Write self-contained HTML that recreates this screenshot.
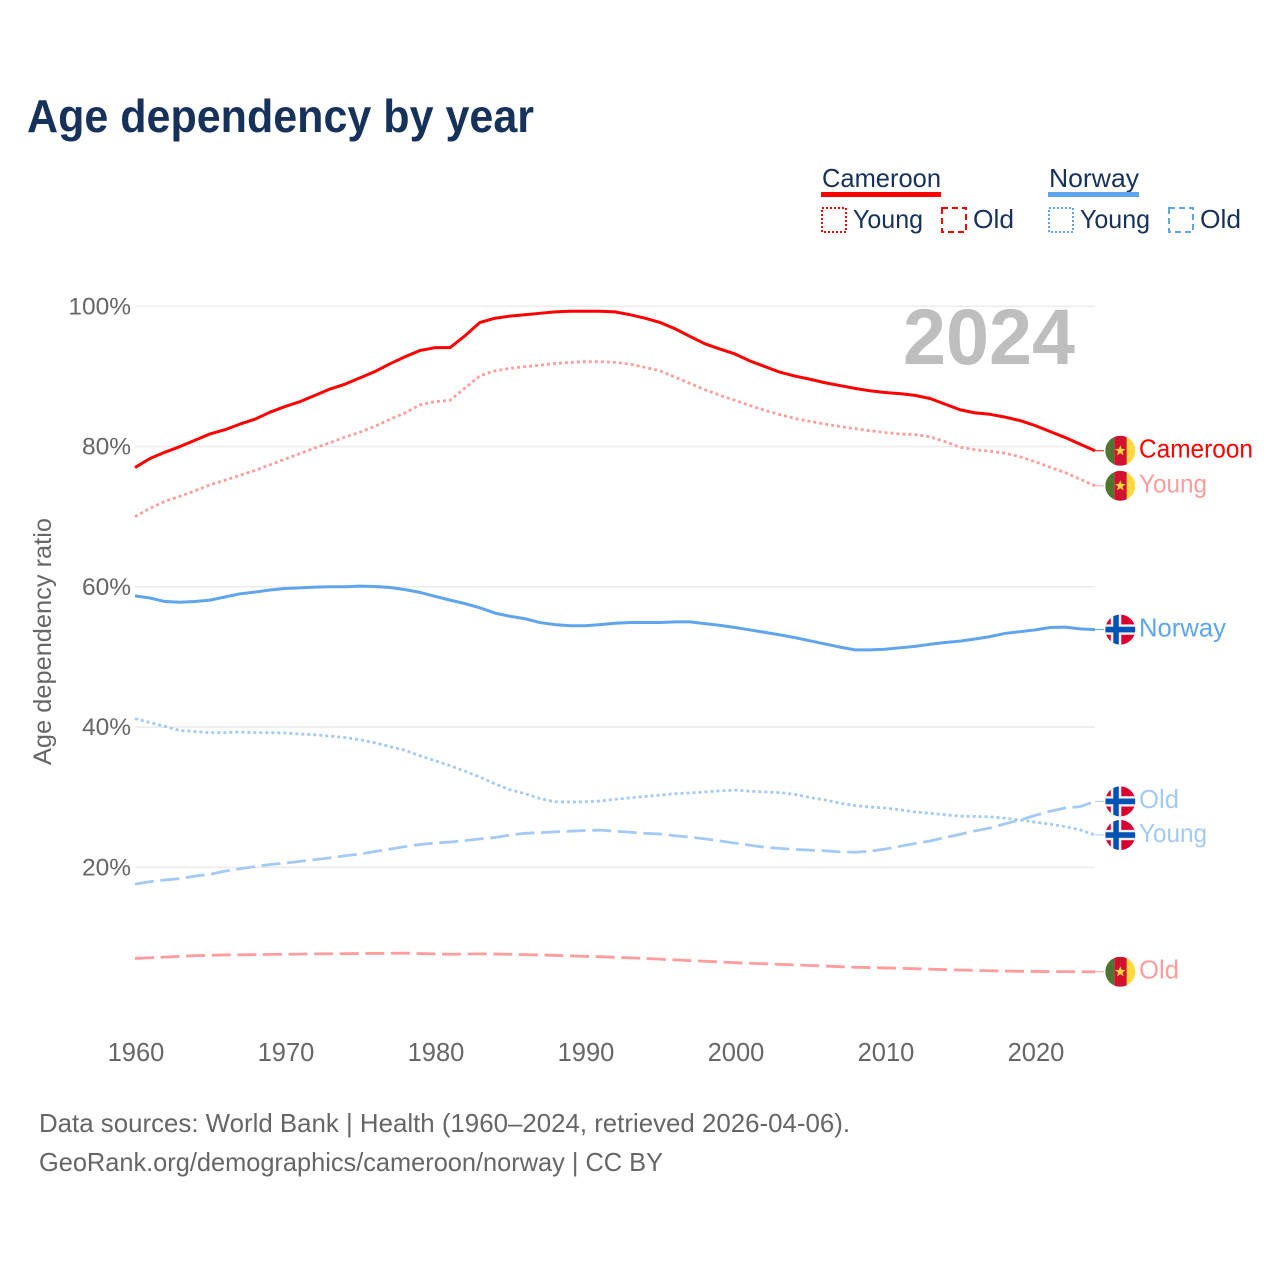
<!DOCTYPE html>
<html lang="en">
<head>
<meta charset="utf-8">
<title>Age dependency by year</title>
<style>
  html, body { margin: 0; padding: 0; background: #fff; }
  svg { display: block; font-family: "Liberation Sans", sans-serif; }
</style>
</head>
<body>
<svg id="chart" xmlns="http://www.w3.org/2000/svg" width="1280" height="1280" viewBox="0 0 1280 1280">
  <defs>
    <clipPath id="flag-clip"><circle cx="0" cy="0" r="15"></circle></clipPath>
  </defs>
  <rect x="0" y="0" width="1280" height="1280" fill="#ffffff"></rect>

  <text x="27" y="132" font-size="46" font-weight="700" fill="#17325a" textLength="507" lengthAdjust="spacingAndGlyphs">Age dependency by year</text>

  <g>
    <text x="822" y="187" font-size="26" fill="#17325a" textLength="119" lengthAdjust="spacingAndGlyphs">Cameroon</text>
    <rect x="821" y="192" width="120" height="5" fill="#ff0000"></rect>
    <rect x="822" y="208" width="24" height="24" fill="none" stroke="#ff0000" stroke-width="2" stroke-dasharray="2 2"></rect>
    <text x="853" y="228" font-size="26" fill="#17325a" textLength="70" lengthAdjust="spacingAndGlyphs">Young</text>
    <rect x="942" y="208" width="24" height="24" fill="none" stroke="#ff0000" stroke-width="2" stroke-dasharray="6 4"></rect>
    <text x="973" y="228" font-size="26" fill="#17325a" textLength="41" lengthAdjust="spacingAndGlyphs">Old</text>

    <text x="1049" y="187" font-size="26" fill="#17325a" textLength="90" lengthAdjust="spacingAndGlyphs">Norway</text>
    <rect x="1048" y="192" width="91" height="5" fill="#5ea5ee"></rect>
    <rect x="1049" y="208" width="24" height="24" fill="none" stroke="#5ea5ee" stroke-width="2" stroke-dasharray="2 2"></rect>
    <text x="1080" y="228" font-size="26" fill="#17325a" textLength="70" lengthAdjust="spacingAndGlyphs">Young</text>
    <rect x="1169" y="208" width="24" height="24" fill="none" stroke="#5ea5ee" stroke-width="2" stroke-dasharray="6 4"></rect>
    <text x="1200" y="228" font-size="26" fill="#17325a" textLength="41" lengthAdjust="spacingAndGlyphs">Old</text>
  </g>

  <g id="grid"></g>
  <g id="y-ticks"></g>
  <g id="x-ticks"></g>

  <text transform="translate(51,765) rotate(-90)" x="0" y="0" font-size="25" fill="#666666" textLength="247" lengthAdjust="spacingAndGlyphs">Age dependency ratio</text>

  <text x="903" y="364" font-size="79" font-weight="700" fill="#bebebe" textLength="172" lengthAdjust="spacingAndGlyphs">2024</text>

  <g id="series"></g>
  <g id="end-labels"></g>

  <text x="39" y="1132" font-size="26" fill="#666666" textLength="811" lengthAdjust="spacingAndGlyphs">Data sources: World Bank | Health (1960–2024, retrieved 2026-04-06).</text>
  <text x="39" y="1171" font-size="26" fill="#666666" textLength="624" lengthAdjust="spacingAndGlyphs">GeoRank.org/demographics/cameroon/norway | CC BY</text>
</svg>

<script>
const years = [1960,1961,1962,1963,1964,1965,1966,1967,1968,1969,1970,1971,1972,1973,1974,1975,1976,1977,1978,1979,1980,1981,1982,1983,1984,1985,1986,1987,1988,1989,1990,1991,1992,1993,1994,1995,1996,1997,1998,1999,2000,2001,2002,2003,2004,2005,2006,2007,2008,2009,2010,2011,2012,2013,2014,2015,2016,2017,2018,2019,2020,2021,2022,2023,2024];
const xTickYears = [1960,1970,1980,1990,2000,2010,2020];
const yTickValues = [20,40,60,80,100];

const cameroonTotal = [77.0,78.3,79.2,80.0,80.9,81.8,82.4,83.2,83.9,84.9,85.7,86.4,87.3,88.2,88.9,89.8,90.7,91.8,92.8,93.7,94.1,94.1,95.8,97.7,98.3,98.6,98.8,99.0,99.2,99.3,99.3,99.3,99.2,98.8,98.3,97.7,96.8,95.7,94.65,93.9,93.2,92.2,91.4,90.6,90.05,89.6,89.1,88.7,88.3,87.95,87.7,87.55,87.3,86.85,86.05,85.25,84.8,84.6,84.2,83.7,83.0,82.15,81.3,80.35,79.4];
const cameroonYoung = [70.0,71.2,72.2,72.9,73.7,74.55,75.2,75.9,76.6,77.4,78.2,79.0,79.8,80.55,81.35,82.05,82.9,83.9,84.8,85.95,86.4,86.6,88.35,90.1,90.8,91.15,91.4,91.6,91.85,92.0,92.1,92.1,92.0,91.75,91.3,90.8,89.9,89.0,88.1,87.3,86.6,85.85,85.15,84.55,84.0,83.6,83.2,82.85,82.55,82.25,82.0,81.8,81.7,81.4,80.7,79.9,79.55,79.35,79.05,78.55,77.85,77.05,76.3,75.35,74.4];
const cameroonOld = [7.0,7.1,7.2,7.3,7.4,7.45,7.5,7.52,7.55,7.58,7.6,7.62,7.65,7.67,7.68,7.7,7.72,7.74,7.75,7.7,7.65,7.6,7.63,7.65,7.63,7.6,7.55,7.5,7.45,7.38,7.3,7.25,7.16,7.08,7.0,6.9,6.8,6.7,6.6,6.5,6.4,6.32,6.24,6.16,6.08,6.0,5.92,5.83,5.75,5.7,5.65,5.6,5.54,5.47,5.41,5.35,5.3,5.25,5.2,5.17,5.15,5.13,5.12,5.1,5.1];
const norwayTotal = [58.7,58.4,57.9,57.8,57.9,58.1,58.55,59.0,59.25,59.55,59.75,59.85,59.95,60.0,60.0,60.1,60.05,59.9,59.6,59.2,58.65,58.1,57.6,57.0,56.25,55.8,55.45,54.9,54.6,54.45,54.45,54.6,54.8,54.9,54.9,54.9,55.0,55.0,54.75,54.5,54.2,53.85,53.5,53.15,52.75,52.3,51.85,51.4,51.0,51.0,51.1,51.3,51.5,51.8,52.05,52.25,52.55,52.9,53.35,53.6,53.85,54.2,54.25,54.0,53.9];
const norwayYoung = [41.2,40.65,40.1,39.5,39.35,39.2,39.2,39.3,39.2,39.2,39.15,39.0,38.9,38.7,38.5,38.2,37.75,37.2,36.7,35.9,35.2,34.5,33.7,32.85,31.9,31.05,30.5,29.8,29.35,29.3,29.35,29.45,29.7,29.9,30.1,30.3,30.5,30.6,30.75,30.9,31.0,30.85,30.75,30.65,30.4,29.95,29.6,29.15,28.8,28.6,28.45,28.2,27.9,27.7,27.5,27.3,27.25,27.2,27.0,26.75,26.45,26.15,25.8,25.35,24.6];
const norwayOld = [17.6,17.95,18.2,18.4,18.75,19.0,19.45,19.8,20.1,20.4,20.6,20.85,21.1,21.35,21.65,21.9,22.25,22.6,22.95,23.25,23.45,23.6,23.8,24.05,24.25,24.6,24.85,24.95,25.05,25.15,25.25,25.3,25.15,25.0,24.85,24.75,24.5,24.3,24.05,23.75,23.45,23.15,22.85,22.7,22.55,22.45,22.35,22.2,22.15,22.3,22.6,23.0,23.4,23.75,24.25,24.7,25.2,25.6,26.2,26.75,27.4,28.0,28.45,28.65,29.4];

const NS = 'http://www.w3.org/2000/svg';
const RED = '#ff0000', RED_LIGHT = '#ff9c9c', BLUE = '#5ea5ee', BLUE_LIGHT = '#a3caf4';
const DOTTED = '3 3', DASHED = '19 6.6';

function xScale(year) { return 135 + (year - 1960) * 15; }
function yScale(value) { return 867.3 - (value - 20) * 7.0125; }
function make(tag, parent, attrs) {
  const el = document.createElementNS(NS, tag);
  for (const k in attrs) el.setAttribute(k, attrs[k]);
  parent.appendChild(el);
  return el;
}

const gridGroup = document.getElementById('grid');
const yTickGroup = document.getElementById('y-ticks');
const xTickGroup = document.getElementById('x-ticks');
const seriesGroup = document.getElementById('series');
const endGroup = document.getElementById('end-labels');

yTickValues.forEach(function (v) {
  const line = make('line', gridGroup, { x1: 135, x2: 1095, y1: yScale(v), y2: yScale(v), stroke: '#ececec', 'stroke-width': 1.6 });
  
  
  const label = make('text', yTickGroup, { x: 131, y: yScale(v) + 8, 'text-anchor': 'end', 'font-size': 24.5, fill: '#666666' });
  
  
  label.textContent = v + '%';
});

xTickYears.forEach(function (yr) {
  const label = make('text', xTickGroup, { x: xScale(yr) + 1, y: 1061, 'text-anchor': 'middle', 'font-size': 25.5, fill: '#666666' });
  
  
  label.textContent = String(yr);
});

function drawSeries(name, values, color, width, dash) {
  const pts = values.map(function (v, i) { return xScale(years[i]) + ',' + yScale(v).toFixed(2); }).join(' ');
  const attrs = { points: pts, fill: 'none', stroke: color, 'stroke-width': width, 'stroke-linejoin': 'round' };
  if (dash) attrs['stroke-dasharray'] = dash;
  const line = make('polyline', seriesGroup, attrs);
  
  
  const endY = yScale(values[values.length - 1]);
  const stub = make('line', seriesGroup, { x1: 1095, x2: 1104, y1: endY, y2: endY, stroke: color, 'stroke-width': 1 });
  
  
}

function starPoints(r) {
  const out = [];
  for (let i = 0; i < 10; i++) {
    const rad = i % 2 ? r * 0.42 : r;
    const a = -Math.PI / 2 + i * Math.PI / 5;
    out.push((rad * Math.cos(a)).toFixed(2) + ',' + (rad * Math.sin(a)).toFixed(2));
  }
  return out.join(' ');
}

function drawCameroonFlag(g) {
  make('rect', g, { x: -15, y: -15, width: 9, height: 30, fill: '#4f7530' });
  make('rect', g, { x: -6, y: -15, width: 12.5, height: 30, fill: '#d1122f' });
  make('rect', g, { x: 6.5, y: -15, width: 8.5, height: 30, fill: '#ffd83d' });
  make('polygon', g, { points: starPoints(5.6), fill: '#ffd83d' });
}

function drawNorwayFlag(g) {
  make('rect', g, { x: -15, y: -15, width: 30, height: 30, fill: '#d80031' });
  make('rect', g, { x: -9.5, y: -15, width: 10.5, height: 30, fill: '#f0f0f0' });
  make('rect', g, { x: -15, y: -5.2, width: 30, height: 10.4, fill: '#f0f0f0' });
  make('rect', g, { x: -7, y: -15, width: 5.5, height: 30, fill: '#0052b4' });
  make('rect', g, { x: -15, y: -2.8, width: 30, height: 5.6, fill: '#0052b4' });
}

function drawEnd(name, values, color, text, textLen, flagFn) {
  const endY = yScale(values[values.length - 1]);
  const outer = make('g', endGroup, { transform: 'translate(1120.3,' + endY.toFixed(2) + ')' });
  
  
  const inner = make('g', outer, { 'clip-path': 'url(#flag-clip)' });
  flagFn(inner);
  const label = make('text', endGroup, { x: 1139, y: endY + 6.8, 'font-size': 26, fill: color, textLength: textLen, lengthAdjust: 'spacingAndGlyphs' });
  
  
  label.textContent = text;
}

drawSeries('cameroon-old', cameroonOld, RED_LIGHT, 2.8, DASHED);
drawSeries('norway-old', norwayOld, BLUE_LIGHT, 2.8, DASHED);
drawSeries('norway-young', norwayYoung, BLUE_LIGHT, 2.8, DOTTED);
drawSeries('cameroon-young', cameroonYoung, RED_LIGHT, 2.8, DOTTED);
drawSeries('norway-total', norwayTotal, BLUE, 3, null);
drawSeries('cameroon-total', cameroonTotal, RED, 3, null);

drawEnd('cameroon-old', cameroonOld, RED_LIGHT, 'Old', 40, drawCameroonFlag);
drawEnd('norway-young', norwayYoung, BLUE_LIGHT, 'Young', 68, drawNorwayFlag);
drawEnd('norway-old', norwayOld, BLUE_LIGHT, 'Old', 40, drawNorwayFlag);
drawEnd('cameroon-young', cameroonYoung, RED_LIGHT, 'Young', 68, drawCameroonFlag);
drawEnd('norway-total', norwayTotal, BLUE, 'Norway', 87, drawNorwayFlag);
drawEnd('cameroon-total', cameroonTotal, RED, 'Cameroon', 114, drawCameroonFlag);
</script>
</body>
</html>
